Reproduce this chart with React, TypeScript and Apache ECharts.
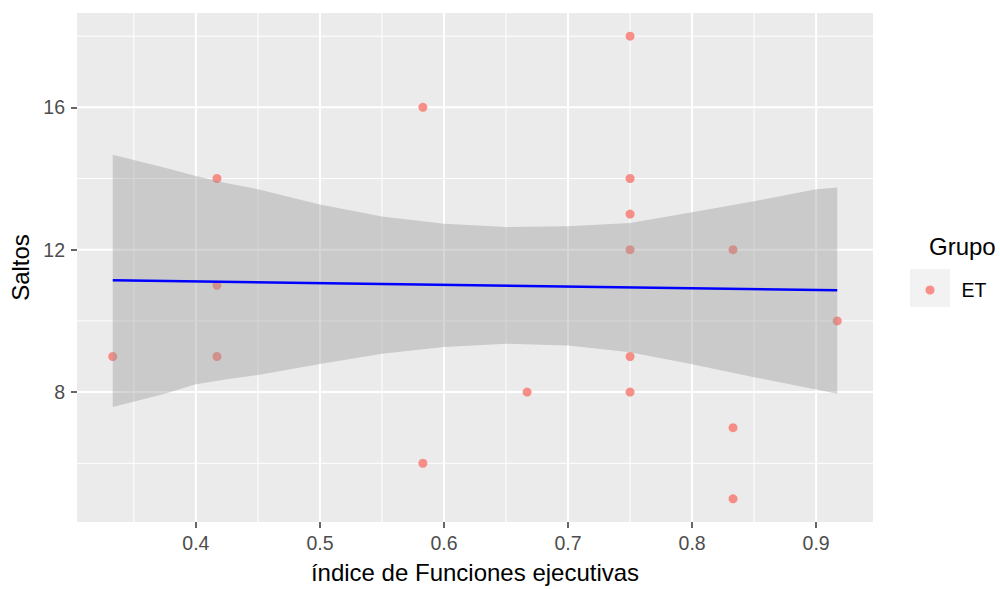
import React, { useEffect, useRef } from "react";
import * as echarts from "echarts";

// ---- data ----
const pointX = [0.333, 0.417, 0.417, 0.417, 0.583, 0.583, 0.667, 0.75, 0.75, 0.75, 0.75, 0.75, 0.75, 0.833, 0.833, 0.833, 0.917];
const pointY = [9, 14, 11, 9, 16, 6, 8, 18, 14, 13, 12, 9, 8, 12, 7, 5, 10];

const fitX = [0.333, 0.917];
const fitY = [11.14, 10.86];

const bandX = [0.333, 0.375, 0.4, 0.425, 0.45, 0.5, 0.55, 0.6, 0.65, 0.7, 0.75, 0.8, 0.85, 0.9, 0.917];
const bandUpper = [14.67, 14.3, 14.07, 13.87, 13.7, 13.27, 12.93, 12.73, 12.64, 12.66, 12.75, 13.05, 13.36, 13.7, 13.75];
const bandLower = [7.58, 7.95, 8.22, 8.36, 8.48, 8.79, 9.08, 9.27, 9.36, 9.31, 9.12, 8.78, 8.42, 8.07, 7.95];

const xMajorTicks = [0.4, 0.5, 0.6, 0.7, 0.8, 0.9];
const xMinorTicks = [0.35, 0.45, 0.55, 0.65, 0.75, 0.85];
const yMajorTicks = [8, 12, 16];
const yMinorTicks = [6, 10, 14, 18];

const groupName = "ET";
const xTitle = "índice de Funciones ejecutivas";
const yTitle = "Saltos";
const legendTitle = "Grupo";

// axis ranges (ggplot 5% expansion)
const X_MIN = 0.30417;
const X_MAX = 0.94583;
const Y_MIN = 4.35;
const Y_MAX = 18.65;

const FONT = "'Liberation Sans', Arial, sans-serif";

function gridSeries(values: number[], vertical: boolean, width: number) {
  return {
    type: "custom",
    silent: true,
    z: 1,
    data: values.map((v) => (vertical ? [v, Y_MIN] : [X_MIN, v])),
    encode: { x: 0, y: 1 },
    renderItem: (params: any, api: any) => {
      const v = vertical ? api.value(0) : api.value(1);
      const p1 = vertical ? api.coord([v, Y_MIN]) : api.coord([X_MIN, v]);
      const p2 = vertical ? api.coord([v, Y_MAX]) : api.coord([X_MAX, v]);
      return {
        type: "line",
        shape: { x1: p1[0], y1: p1[1], x2: p2[0], y2: p2[1] },
        style: { stroke: "#FFFFFF", lineWidth: width },
      };
    },
  };
}

export default function App() {
  const ref = useRef<HTMLDivElement>(null);

  useEffect(() => {
    if (!ref.current) return;
    const chart = echarts.init(ref.current, null, { renderer: "svg" });
    const option: any = {
      animation: false,
      backgroundColor: "#FFFFFF",
      textStyle: { fontFamily: FONT },
      grid: {
        left: 77,
        top: 13,
        width: 796,
        height: 514,
        show: true,
        backgroundColor: "#EBEBEB",
        borderWidth: 0,
      },
      title: {
        text: legendTitle,
        left: 929,
        top: 234,
        padding: 0,
        textStyle: { fontFamily: FONT, fontSize: 24, fontWeight: "normal", color: "#000000" },
      },
      legend: {
        data: [{ name: groupName, icon: "circle" }],
        left: 925.5,
        top: 280,
        itemWidth: 9,
        itemHeight: 9,
        padding: 0,
        selectedMode: false,
        textStyle: { fontFamily: FONT, fontSize: 19.5, color: "#000000", padding: [0, 0, 0, 22], lineHeight: 20 },
      },
      graphic: [
        {
          type: "rect",
          left: 910,
          top: 269,
          shape: { width: 40, height: 38 },
          style: { fill: "#F2F2F2" },
          z: -1,
          silent: true,
        },
      ],
      xAxis: {
        type: "value",
        min: X_MIN,
        max: X_MAX,
        name: xTitle,
        nameLocation: "middle",
        nameGap: 38,
        nameTextStyle: { fontFamily: FONT, fontSize: 24, color: "#000000" },
        axisLine: { show: false },
        axisTick: { show: true, customValues: xMajorTicks, length: 6, lineStyle: { color: "#333333", width: 1.5 } },
        axisLabel: {
          customValues: xMajorTicks,
          margin: 11,
          fontFamily: FONT,
          fontSize: 19.5,
          color: "#4D4D4D",
          formatter: (v: number) => v.toFixed(1),
        },
        splitLine: { show: false },
      },
      yAxis: {
        type: "value",
        min: Y_MIN,
        max: Y_MAX,
        name: yTitle,
        nameLocation: "middle",
        nameGap: 44,
        nameTextStyle: { fontFamily: FONT, fontSize: 24, color: "#000000" },
        axisLine: { show: false },
        axisTick: { show: true, customValues: yMajorTicks, length: 6, lineStyle: { color: "#333333", width: 1.5 } },
        axisLabel: {
          customValues: yMajorTicks,
          margin: 12,
          fontFamily: FONT,
          fontSize: 19.5,
          color: "#4D4D4D",
        },
        splitLine: { show: false },
      },
      series: [
        gridSeries(xMinorTicks, true, 1),
        gridSeries(yMinorTicks, false, 1),
        gridSeries(xMajorTicks, true, 2),
        gridSeries(yMajorTicks, false, 2),
        {
          name: groupName,
          type: "scatter",
          z: 3,
          symbol: "circle",
          symbolSize: 9,
          itemStyle: { color: "#F8766D" },
          data: pointX.map((x, i) => [x, pointY[i]]),
        },
        {
          type: "custom",
          name: "ci",
          silent: true,
          z: 4,
          data: bandX.map((x, i) => [x, bandLower[i], bandUpper[i]]),
          encode: { x: 0, y: [1, 2] },
          renderItem: (params: any, api: any) => {
            if (params.dataIndex !== 0) return null;
            const upper = bandX.map((x, i) => api.coord([x, bandUpper[i]]));
            const lower = bandX.map((x, i) => api.coord([x, bandLower[i]])).reverse();
            return {
              type: "polygon",
              shape: { points: upper.concat(lower) },
              style: { fill: "rgba(153,153,153,0.4)" },
            };
          },
        },
        {
          type: "line",
          name: "fit",
          z: 5,
          symbol: "none",
          lineStyle: { color: "#0000FF", width: 2.5 },
          data: fitX.map((x, i) => [x, fitY[i]]),
        },
      ],
    };
    chart.setOption(option);
    return () => chart.dispose();
  }, []);

  return (
    <div
      ref={ref}
      style={{ position: "fixed", left: 0, top: 0, width: 1000, height: 589, background: "#FFFFFF" }}
    />
  );
}
